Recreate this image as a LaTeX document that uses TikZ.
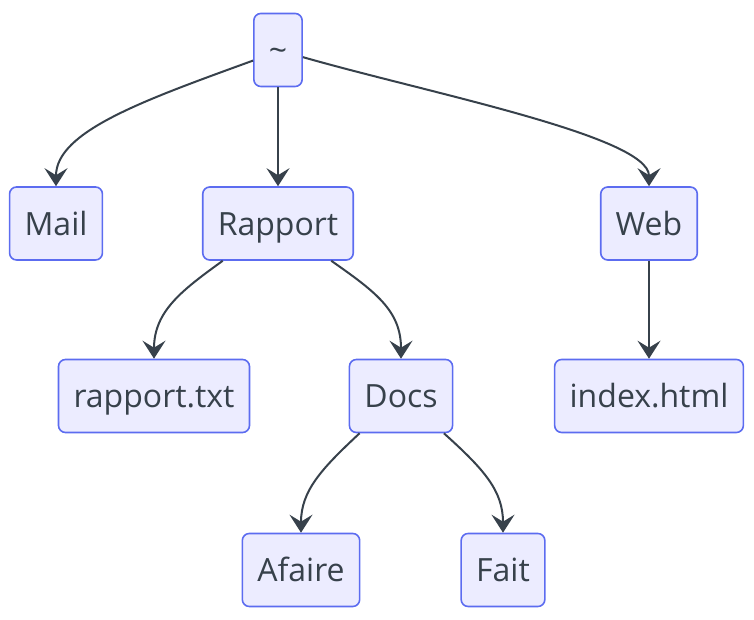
\documentclass[tikz,border=0pt]{standalone}
\usepackage{fontspec}
\setmainfont{Open Sans}
\usepackage{tikz}
\usetikzlibrary{arrows.meta}
\definecolor{dirfill}{HTML}{ECECFF}
\definecolor{dirline}{HTML}{5C6CF0}
\definecolor{slategrey}{HTML}{37414B}
\tikzset{
  dirbox/.style={draw=dirline, fill=dirfill, line width=1.6pt, rounded corners=7pt,
    text=slategrey, font=\fontsize{32}{38}\selectfont, inner xsep=15pt, inner ysep=0pt,
    minimum height=73pt, text height=24pt, text depth=0pt},
  edge/.style={draw=slategrey, line width=2pt,
    -{Stealth[length=18pt, width=23pt, inset=7pt]}}
}

\begin{document}
\begin{tikzpicture}[x=1pt, y=1pt]
  \useasboundingbox (0,0) rectangle (754,620);

  % ===== directory nodes =====
  \node[dirbox] (home)    at (278,570) {\textasciitilde};
  \node[dirbox] (mail)    at (56,396.5)  {Mail};
  \node[dirbox] (rapport) at (278,396.5) {Rapport};
  \node[dirbox] (web)     at (649,396.5) {Web};
  \node[dirbox] (rtxt)    at (154,224) {rapport.txt};
  \node[dirbox] (docs)    at (401,224) {Docs};
  \node[dirbox] (index)   at (649,224) {index.html};
  \node[dirbox] (afaire)  at (301,50) {Afaire};
  \node[dirbox] (fait)    at (503,50) {Fait};

  % ===== edges =====
  \draw[edge] (home.-157) to[out=200, in=90, out distance=115pt, in distance=55pt] (mail.north);
  \draw[edge] (home.south) -- (rapport.north);
  \draw[edge] (home.-16) to[out=-16, in=90, out distance=130pt, in distance=50pt] (web.north);
  \draw[edge] (rapport.-146) to[out=216, in=90, out distance=49pt, in distance=48pt] (rtxt.north);
  \draw[edge] (rapport.-35) to[out=-35, in=90, out distance=54pt, in distance=48pt] (docs.north);
  \draw[edge] (web.south) -- (index.north);
  \draw[edge] (docs.-138.5) to[out=223, in=90, out distance=52pt, in distance=42pt] (afaire.north);
  \draw[edge] (docs.-41) to[out=-42, in=90, out distance=54pt, in distance=42pt] (fait.north);
\end{tikzpicture}
\end{document}
